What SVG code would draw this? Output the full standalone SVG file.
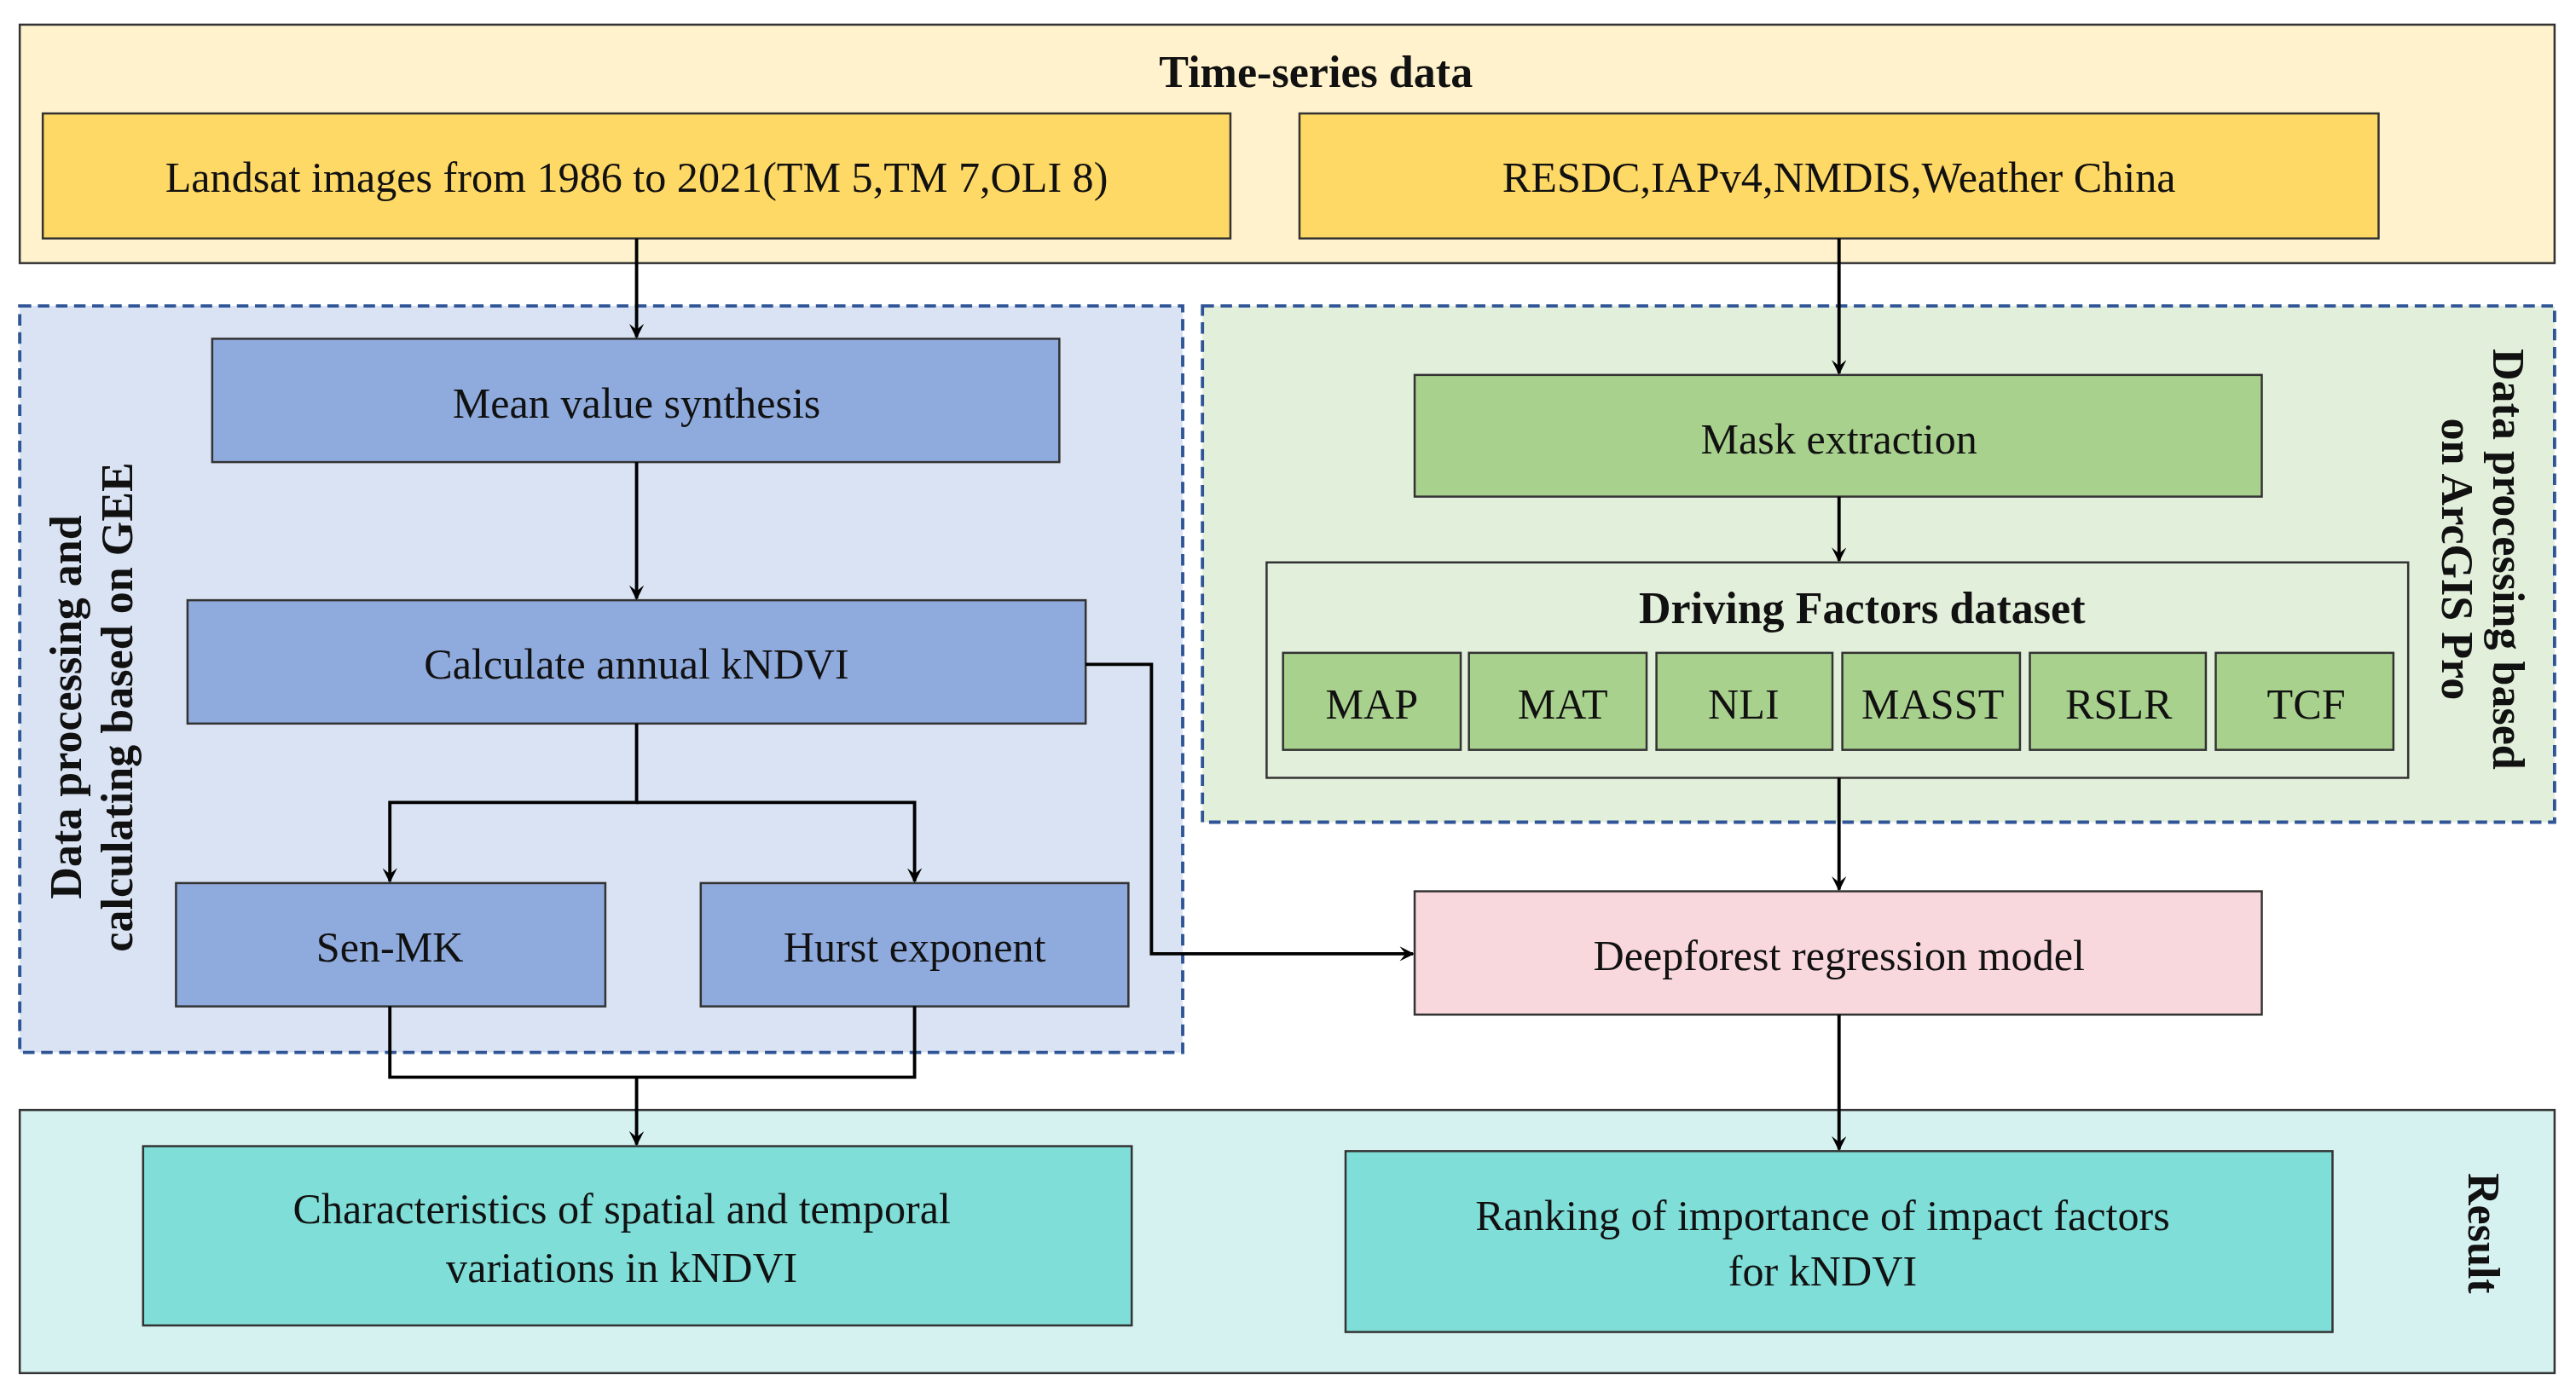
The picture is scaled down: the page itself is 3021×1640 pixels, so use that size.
<svg xmlns="http://www.w3.org/2000/svg" width="3021" height="1640" viewBox="0 0 3021 1640">
<defs>
<marker id="ah" viewBox="0 0 10 10" refX="9" refY="5" markerWidth="9" markerHeight="9" orient="auto" markerUnits="userSpaceOnUse"><path d="M0,0 L10,5 L0,10 L4,5 Z" fill="#000"/></marker>
<style>
text{font-family:"Liberation Serif","Times New Roman",serif;font-size:26px;fill:#111;text-anchor:middle;dominant-baseline:central}
.b{font-weight:bold;font-size:27px}
.n{stroke:#333;stroke-width:1.3}
.y{fill:#ffd966}.bl{fill:#8faadc}.g{fill:#a9d18e}.t{fill:#7fded8}
.d{stroke:#2f5597;stroke-width:2;stroke-dasharray:7,4}
.c{fill:none;stroke:#000;stroke-width:2}
</style>
</defs>
<rect width="3021" height="1640" fill="#fff"/>
<g transform="scale(1.9291)">
<g id="timeseries"><rect x="12" y="15" width="1541" height="145" fill="#fff2cc" class="n"/><text class="b" x="800" y="44">Time-series data</text></g>
<g id="gee"><rect x="12" y="186" width="707" height="454" fill="#dae3f3" class="d"/><text class="b" transform="translate(55,430) rotate(-90)"><tspan x="0" dy="-15">Data processing and</tspan><tspan x="0" dy="31">calculating based on GEE</tspan></text></g>
<g id="arcgis"><rect x="731" y="186" width="822" height="314" fill="#e2efda" class="d"/><text class="b" transform="translate(1510,340) rotate(90)"><tspan x="0" dy="-15">Data processing based</tspan><tspan x="0" dy="31">on ArcGIS Pro</tspan></text></g>
<g id="result"><rect x="12" y="675" width="1541" height="160" fill="#d5f2f0" class="n"/><text class="b" transform="translate(1510,750) rotate(90)">Result</text></g>
<g id="landsat"><rect x="26" y="69" width="722" height="76" class="y n"/><text x="387" y="108">Landsat images from 1986 to 2021(TM 5,TM 7,OLI 8)</text></g>
<g id="resdc"><rect x="790" y="69" width="656" height="76" class="y n"/><text x="1118" y="108">RESDC,IAPv4,NMDIS,Weather China</text></g>
<g id="mean"><rect x="129" y="206" width="515" height="75" class="bl n"/><text x="387" y="245">Mean value synthesis</text></g>
<g id="calc"><rect x="114" y="365" width="546" height="75" class="bl n"/><text x="387" y="404">Calculate annual kNDVI</text></g>
<g id="senmk"><rect x="107" y="537" width="261" height="75" class="bl n"/><text x="237" y="576">Sen-MK</text></g>
<g id="hurst"><rect x="426" y="537" width="260" height="75" class="bl n"/><text x="556" y="576">Hurst exponent</text></g>
<g id="mask"><rect x="860" y="228" width="515" height="74" class="g n"/><text x="1118" y="267">Mask extraction</text></g>
<g id="driving"><rect x="770" y="342" width="694" height="131" fill="#e2efda" class="n"/><text class="b" x="1132" y="370">Driving Factors dataset</text>
<rect x="780" y="397" width="108" height="59" class="g n"/><text x="834" y="428">MAP</text>
<rect x="893" y="397" width="108" height="59" class="g n"/><text x="950" y="428">MAT</text>
<rect x="1007" y="397" width="107" height="59" class="g n"/><text x="1060" y="428">NLI</text>
<rect x="1120" y="397" width="108" height="59" class="g n"/><text x="1175" y="428">MASST</text>
<rect x="1234" y="397" width="107" height="59" class="g n"/><text x="1288" y="428">RSLR</text>
<rect x="1347" y="397" width="108" height="59" class="g n"/><text x="1402" y="428">TCF</text></g>
<g id="deepforest"><rect x="860" y="542" width="515" height="75" fill="#f8d7dd" class="n"/><text x="1118" y="581">Deepforest regression model</text></g>
<g id="char"><rect x="87" y="697" width="601" height="109" class="t n"/><text x="378" y="735">Characteristics of spatial and temporal</text><text x="378" y="771">variations in kNDVI</text></g>
<g id="ranking"><rect x="818" y="700" width="600" height="110" class="t n"/><text x="1108" y="739">Ranking of importance of impact factors</text><text x="1108" y="773">for kNDVI</text></g>
<g id="connectors">
<path class="c" d="M387,145 V205" marker-end="url(#ah)"/>
<path class="c" d="M387,281 V364" marker-end="url(#ah)"/>
<path class="c" d="M387,440 V488 H237 V536" marker-end="url(#ah)"/>
<path class="c" d="M387,488 H556 V536" marker-end="url(#ah)"/>
<path class="c" d="M237,612 V655 H556 V612"/>
<path class="c" d="M387,655 V696" marker-end="url(#ah)"/>
<path class="c" d="M660,404 H700 V580 H859" marker-end="url(#ah)"/>
<path class="c" d="M1118,145 V227" marker-end="url(#ah)"/>
<path class="c" d="M1118,302 V341" marker-end="url(#ah)"/>
<path class="c" d="M1118,473 V541" marker-end="url(#ah)"/>
<path class="c" d="M1118,617 V699" marker-end="url(#ah)"/>
</g>
</g>
</svg>
